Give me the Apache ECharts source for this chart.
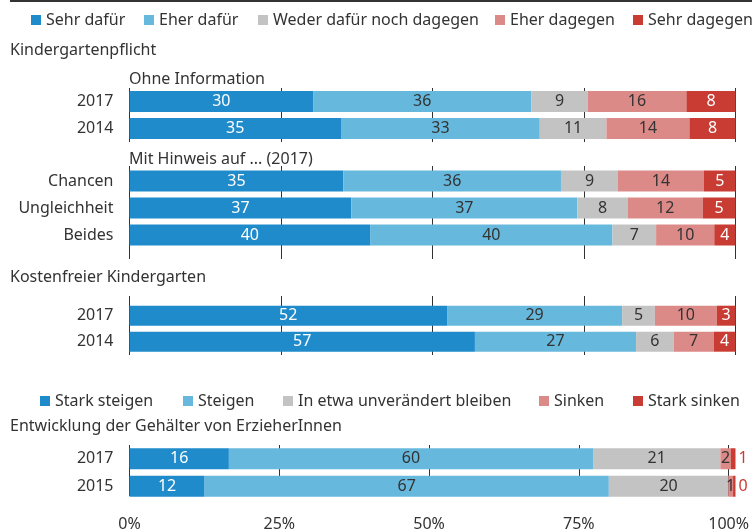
<!DOCTYPE html>
<html>
<head>
<meta charset="utf-8">
<script src="https://cdn.jsdelivr.net/npm/echarts@6/dist/echarts.min.js"></script>
<style>
  html, body { margin: 0; padding: 0; background: #fff; }
  #chart { width: 752px; height: 532px; }
</style>
</head>
<body>
<div id="chart"></div>
<script>
	'use strict';

	// legend names
	var opinionNames = ['Sehr dafür', 'Eher dafür', 'Weder dafür noch dagegen', 'Eher dagegen', 'Sehr dagegen'];
	var salaryNames = ['Stark steigen', 'Steigen', 'In etwa unverändert bleiben', 'Sinken', 'Stark sinken'];

	// Kindergartenpflicht - ohne Information
	var ohneCats = ['2017', '2014'];
	var ohneSehrDafuer = [30.3, 34.9];
	var ohneEherDafuer = [36.0, 32.8];
	var ohneWeder = [9.3, 11.0];
	var ohneEherDagegen = [16.3, 13.7];
	var ohneSehrDagegen = [8.1, 7.6];

	// Kindergartenpflicht - mit Hinweis (2017)
	var hinweisCats = ['Chancen', 'Ungleichheit', 'Beides'];
	var hinweisSehrDafuer = [35.3, 36.6, 39.7];
	var hinweisEherDafuer = [35.9, 37.3, 40.0];
	var hinweisWeder = [9.4, 8.3, 7.2];
	var hinweisEherDagegen = [14.2, 12.4, 9.6];
	var hinweisSehrDagegen = [5.2, 5.4, 3.5];

	// Kostenfreier Kindergarten
	var kostenCats = ['2017', '2014'];
	var kostenSehrDafuer = [52.4, 57.0];
	var kostenEherDafuer = [28.9, 26.6];
	var kostenWeder = [5.4, 6.2];
	var kostenEherDagegen = [10.2, 6.6];
	var kostenSehrDagegen = [3.1, 3.6];

	// Entwicklung der Gehälter
	var gehaltCats = ['2017', '2015'];
	var gehaltStarkSteigen = [16.4, 12.4];
	var gehaltSteigen = [60.1, 66.7];
	var gehaltGleich = [21.0, 19.7];
	var gehaltSinken = [1.7, 0.8];
	var gehaltStarkSinken = [0.8, 0.4];

	var xTicks = [0, 25, 50, 75, 100];

	var colors = ['#1f8bca', '#67b8dd', '#c2c3c2', '#dc8a87', '#c93c33'];
	var labelColors = ['#ffffff', '#333333', '#333333', '#333333', '#ffffff'];
	var textColor = '#333333';
	var fontFamily = 'Noto Sans';
	var fontSize = 16;

	var groups = [
		{ cats: ohneCats, names: opinionNames, top: 88, height: 54, barWidth: 21,
		  data: [ohneSehrDafuer, ohneEherDafuer, ohneWeder, ohneEherDagegen, ohneSehrDagegen] },
		{ cats: hinweisCats, names: opinionNames, top: 167.5, height: 81, barWidth: 21,
		  data: [hinweisSehrDafuer, hinweisEherDafuer, hinweisWeder, hinweisEherDagegen, hinweisSehrDagegen] },
		{ cats: kostenCats, names: opinionNames, top: 302.7, height: 52, barWidth: 20,
		  data: [kostenSehrDafuer, kostenEherDafuer, kostenWeder, kostenEherDagegen, kostenSehrDagegen] },
		{ cats: gehaltCats, names: salaryNames, top: 445, height: 55, barWidth: 21,
		  data: [gehaltStarkSteigen, gehaltSteigen, gehaltGleich, gehaltSinken, gehaltStarkSinken] }
	];
	// vertical grid line extents per group
	var lineGrids = [
		{ top: 88, height: 54 },
		{ top: 166, height: 93 },
		{ top: 296, height: 59 },
		{ top: 445, height: 55 }
	];

	var gridLeft = 129.5;
	var gridRight = 16.5;

	var grid = [], xAxis = [], yAxis = [], series = [];

	groups.forEach(function(g, gi) {
		grid.push({ left: gridLeft, right: gridRight, top: g.top, height: g.height });
		xAxis.push({ gridIndex: gi, type: 'value', min: 0, max: 100, show: false });
		yAxis.push({
			gridIndex: gi,
			type: 'category',
			inverse: true,
			data: g.cats,
			axisLine: { show: false },
			axisTick: { show: false },
			axisLabel: { margin: 16, fontSize: fontSize, color: textColor, fontFamily: fontFamily }
		});
		g.data.forEach(function(vals, si) {
			var outside = (gi === 3 && si === 4);
			series.push({
				name: g.names[si],
				type: 'bar',
				stack: 'g' + gi,
				xAxisIndex: gi,
				yAxisIndex: gi,
				barWidth: g.barWidth,
				data: vals,
				itemStyle: { color: colors[si] },
				z: 3,
				label: {
					show: true,
					position: outside ? 'right' : 'inside',
					distance: 3,
					fontSize: fontSize,
					fontFamily: fontFamily,
					color: outside ? colors[4] : labelColors[si],
					formatter: function(p) { return Math.round(p.value); }
				}
			});
		});
	});

	lineGrids.forEach(function(l, li) {
		var idx = groups.length + li;
		var last = li === lineGrids.length - 1;
		grid.push({ left: gridLeft, right: gridRight, top: l.top, height: l.height });
		xAxis.push({
			gridIndex: idx,
			type: 'value',
			min: xTicks[0],
			max: xTicks[xTicks.length - 1],
			interval: 25,
			axisLine: { show: false },
			axisTick: { show: false },
			splitLine: { show: true, lineStyle: { color: '#333333', width: 1 } },
			axisLabel: {
				show: last,
				margin: 20,
				fontSize: fontSize,
				fontFamily: fontFamily,
				color: textColor,
				formatter: '{value}%'
			}
		});
		yAxis.push({ gridIndex: idx, type: 'value', show: false });
	});

	// one legend per item so each square sits where it belongs
	var legendTextStyle = { fontSize: fontSize, color: textColor, fontFamily: fontFamily };
	var legend1Left = [31, 144, 258, 495, 633];
	var legend2Left = [40, 183, 283, 539, 633];
	var legend = [];
	opinionNames.forEach(function(n, i) {
		legend.push({ data: [n], left: legend1Left[i], top: 12, itemWidth: 10, itemHeight: 10,
			itemGap: 4, icon: 'rect', textStyle: legendTextStyle, padding: 0 });
	});
	salaryNames.forEach(function(n, i) {
		legend.push({ data: [n], left: legend2Left[i], top: 393, itemWidth: 10, itemHeight: 10,
			itemGap: 4, icon: 'rect', textStyle: legendTextStyle, padding: 0 });
	});

	function heading(text, x, y) {
		return {
			type: 'text',
			left: x,
			top: y,
			style: { text: text, fontSize: fontSize, fill: textColor, fontFamily: fontFamily }
		};
	}

	var chart = echarts.init(document.getElementById('chart'));
	chart.setOption({
		animation: false,
		textStyle: { fontFamily: fontFamily },
		grid: grid,
		xAxis: xAxis,
		yAxis: yAxis,
		legend: legend,
		series: series,
		graphic: [
			{ type: 'line', shape: { x1: 10, y1: 1, x2: 752, y2: 1 }, style: { stroke: '#333333', lineWidth: 2 } },
			heading('Kindergartenpflicht', 10, 42),
			heading('Ohne Information', 129, 71),
			heading('Mit Hinweis auf ... (2017)', 129, 151),
			heading('Kostenfreier Kindergarten', 10, 269),
			heading('Entwicklung der Gehälter von ErzieherInnen', 10, 418)
		]
	});
	window.addEventListener('resize', function() {
		chart.resize();
	});
</script>
</body>
</html>
